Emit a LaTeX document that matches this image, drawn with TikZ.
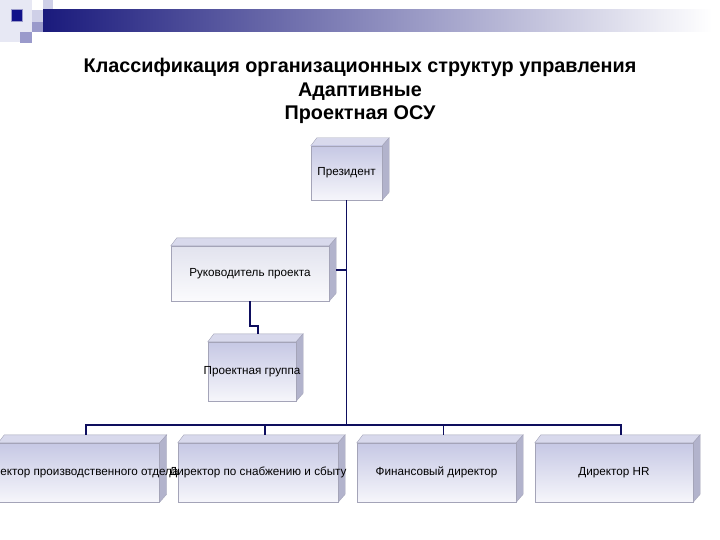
\documentclass[tikz,border=0pt]{standalone}
\usepackage{fontspec}
\setmainfont{Liberation Sans}
\usetikzlibrary{backgrounds}
\definecolor{navy}{HTML}{0E0E5E}
\definecolor{edgegray}{HTML}{A4A4B8}
\definecolor{facetop}{HTML}{C6C8E4}
\definecolor{facebot}{HTML}{F6F6FB}
\definecolor{paletop}{HTML}{E2E3EE}
\definecolor{palebot}{HTML}{FBFBFD}
\definecolor{topface}{HTML}{D8D9EC}
\definecolor{sideface}{HTML}{B2B3CC}
\definecolor{hdrdark}{HTML}{12128A}
\definecolor{hdrbar}{HTML}{1A1A7C}
\definecolor{hdrlight}{HTML}{CFD0E8}
\definecolor{hdrmid}{HTML}{9A9ACB}
\newcommand\cubefaces[1]{%
  \begin{pgfonlayer}{background}
  \filldraw[fill=topface,draw=edgegray,line width=0.4pt] (#1.north west) -- ++(6,-8) -- ([shift={(7,-8)}]#1.north east) -- (#1.north east) -- cycle;
  \filldraw[fill=sideface,draw=edgegray,line width=0.4pt] (#1.north east) -- ([shift={(7,-8)}]#1.north east) -- ([shift={(7,-8)}]#1.south east) -- (#1.south east) -- cycle;
  \end{pgfonlayer}}
\newcommand\ztext[1]{\makebox[0pt][c]{#1}}
\begin{document}
\begin{tikzpicture}[x=1pt,y=-1pt,
  frontbox/.style={draw=edgegray,line width=0.4pt,top color=facetop,bottom color=facebot,
    inner sep=0pt,font=\fontsize{11.7}{13}\selectfont,text=black},
  palebox/.style={frontbox,top color=paletop,bottom color=palebot},
  titletext/.style={font=\bfseries\fontsize{19.8}{22}\selectfont,inner sep=0pt,anchor=base},
  conn/.style={draw=navy,line width=1.8pt}]
\useasboundingbox (0,0) rectangle (720,540);
\clip (0,0) rectangle (720,540);
% header
\fill[hdrlight!50] (0,0) rectangle (32,42);
\fill[hdrlight] (43,0) rectangle (53,20);
\fill[hdrlight] (32,10) rectangle (43,22);
\fill[hdrmid] (32,22) rectangle (43,32);
\fill[hdrmid] (20,32) rectangle (32,43);
\shade[left color=hdrbar,right color=white] (43,10) rectangle (712,32);
\filldraw[fill=hdrdark,draw=hdrmid,line width=0.6pt] (11,9) rectangle (22,21);
% title
\node[titletext] (t1) at (360,73) {Классификация организационных структур управления};
\node[titletext] (t2) at (360,97) {Адаптивные};
\node[titletext] (t3) at (360,120) {Проектная ОСУ};
% boxes
\node[frontbox,minimum width=71pt,minimum height=54pt] (pres) at (346.5,173) {\ztext{Президент}};
\cubefaces{pres}
\node[palebox,minimum width=158pt,minimum height=55pt] (ruk) at (250,273.5) {\ztext{Руководитель проекта}};
\cubefaces{ruk}
\node[frontbox,minimum width=88pt,minimum height=59pt] (grp) at (252,371.5) {\ztext{Проектная группа}};
\cubefaces{grp}
\node[frontbox,minimum width=161pt,minimum height=59pt] (b1) at (79,472.5) {\ztext{Директор производственного отдела}};
\cubefaces{b1}
\node[frontbox,minimum width=160pt,minimum height=59pt] (b2) at (258,472.5) {\ztext{Директор по снабжению и сбыту}};
\cubefaces{b2}
\node[frontbox,minimum width=159pt,minimum height=59pt] (b3) at (436.5,472.5) {\ztext{Финансовый директор}};
\cubefaces{b3}
\node[frontbox,minimum width=158pt,minimum height=59pt] (b4) at (614,472.5) {\ztext{Директор HR}};
\cubefaces{b4}
% connectors
\coordinate (bus) at (346.5,425);
\coordinate (b1t) at ([shift={(7,-8)}]b1.north);
\coordinate (b2t) at ([shift={(7,-8)}]b2.north);
\coordinate (b3t) at ([shift={(7,-8)}]b3.north);
\coordinate (b4t) at ([shift={(7,-8)}]b4.north);
\draw[conn] (pres.south) -- (bus);
\draw[conn] (b1t) -- (b1t |- bus) -- (b4t |- bus) -- (b4t);
\draw[conn] (b2t) -- (b2t |- bus);
\draw[conn] (b3t) -- (b3t |- bus);
\draw[conn] ([shift={(7,-3.5)}]ruk.east) -- ([shift={(0,-3.5)}]ruk.east -| pres.south);
\draw[conn] (ruk.south) -- ++(0,25) -| ([shift={(6,-8)}]grp.north);
\end{tikzpicture}
\end{document}
